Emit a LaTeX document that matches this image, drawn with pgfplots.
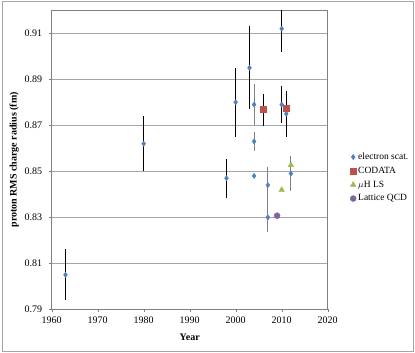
\documentclass[border=0pt]{standalone}
\usepackage{fontspec}
\setmainfont{Liberation Serif}
\usepackage{pgfplots}
\pgfplotsset{compat=1.18}
\definecolor{escat}{HTML}{4F81BD}
\definecolor{codata}{HTML}{C0504D}
\definecolor{muh}{HTML}{9BBB59}
\definecolor{lqcd}{HTML}{8064A2}
\definecolor{gridc}{HTML}{A6A6A6}
\definecolor{axisc}{HTML}{7F7F7F}

\begin{document}
\begin{tikzpicture}[x=1pt,y=1pt]
  \useasboundingbox (-51.7,-43.7) rectangle (363.3,309.3);
  \draw[gridc,line width=0.8pt] (-49.7,-42) rectangle (361.3,308.3);
  \begin{axis}[
      at={(0,0)},anchor=south west,
      scale only axis,width=276pt,height=299pt,
      xmin=1960,xmax=2020,ymin=0.79,ymax=0.92,
      xtick={1960,1970,1980,1990,2000,2010,2020},
      ytick={0.79,0.81,0.83,0.85,0.87,0.89,0.91},
      ymajorgrids,
      grid style={gridc,line width=0.6pt},
      axis line style={axisc},
      tick style={axisc},
      tick align=outside,
      major tick length=3pt,
      xtick pos=bottom,ytick pos=left,
      font=\fontsize{10}{12}\selectfont,
      /pgf/number format/assume math mode=true,
      /pgf/number format/1000 sep={},
      yticklabel style={xshift=-3pt,/pgf/number format/fixed,/pgf/number format/precision=2,/pgf/number format/fixed zerofill},
      xticklabel style={yshift=-1pt},
      xlabel={\textbf{Year}},
      ylabel={\textbf{proton RMS charge radius (fm)}},
      xlabel style={font=\fontsize{10}{12}\selectfont,yshift=-4pt},
      ylabel style={font=\fontsize{10}{12}\selectfont,yshift=-1pt},
      legend style={at={(1.07,0.44)},anchor=west,draw=none,fill=none,
        font=\fontsize{9.5}{11}\selectfont,row sep=2pt,
        /tikz/every even column/.append style={column sep=0pt}},
      legend cell align=left,
      error bars/error bar style={black,line width=0.8pt},
      error bars/error mark=none,
    ]
    % electron scattering, black bars
    \addplot[only marks,mark=diamond*,mark size=2.6pt,color=escat,
      error bars/.cd,y dir=both,y explicit]
      coordinates {
        (1963,0.805) +- (0,0.011)
        (1980,0.862) +- (0,0.012)
        (1998,0.847) +- (0,0.0085)
        (2000,0.880) +- (0,0.015)
        (2003,0.895) +- (0,0.018)
        (2010,0.912) +- (0,0.010)
        (2010,0.879) +- (0,0.008)
        (2011,0.875) +- (0,0.010)
      };
    \addlegendentry{electron scat.}
    \addplot[only marks,mark=square*,mark size=3pt,color=codata,
      error bars/.cd,y dir=both,y explicit]
      coordinates {
        (2006,0.8768) +- (0,0.0069)
        (2011,0.8775) +- (0,0.0051)
      };
    \addlegendentry{CODATA}
    \addplot[only marks,mark=triangle*,mark size=3.2pt,color=muh]
      coordinates {
        (2010,0.8419)
        (2012,0.8527)
      };
    \addlegendentry{$\mu$H LS}
    \addplot[only marks,mark=*,mark size=3pt,color=lqcd]
      coordinates {
        (2009,0.8307)
      };
    \addlegendentry{Lattice QCD}
    % electron scattering, grey bars
    \addplot[forget plot,only marks,mark=diamond*,mark size=2.6pt,color=escat,
      error bars/.cd,y dir=both,y explicit,error bar style={gray,line width=0.8pt}]
      coordinates {
        (2004,0.879) +- (0,0.009)
        (2004,0.863) +- (0,0.004)
        (2004,0.848) +- (0,0)
        (2007,0.844) +- (0,0.008)
        (2007,0.830) +- (0,0.0065)
        (2012,0.849) +- (0,0.0075)
      };
  \end{axis}
\end{tikzpicture}
\end{document}
